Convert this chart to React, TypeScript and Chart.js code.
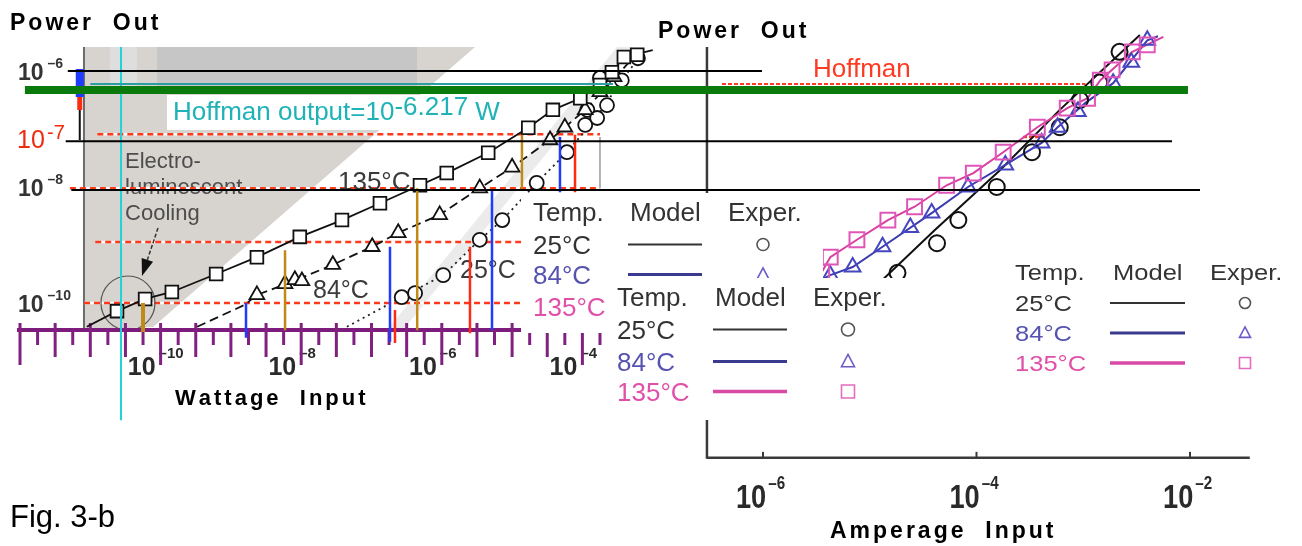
import React, { useEffect, useRef } from "react";
import { Chart, registerables } from "chart.js";

Chart.register(...registerables);

type P = [number, number];

// ---------------- Left panel: x = log10(Wattage input, W), y = log10(Power out, W)
const left135Model: P[] = [[-11.05,-10.41],[-10.62,-10.14],[-10.22,-9.93],[-9.84,-9.81],[-9.21,-9.5],[-8.63,-9.21],[-8.02,-8.86],[-7.42,-8.57],[-6.88,-8.28],[-6.31,-7.97],[-5.93,-7.76],[-5.34,-7.41],[-4.77,-6.98],[-4.42,-6.67],[-4.03,-6.47],[-3.75,-6.24],[-3.58,-6.02],[-3.41,-5.76],[-3.0,-5.64]];
const left135Exp: P[] = [[-10.62,-10.14],[-10.22,-9.93],[-9.84,-9.81],[-9.21,-9.5],[-8.63,-9.21],[-8.02,-8.86],[-7.42,-8.57],[-6.88,-8.28],[-6.31,-7.97],[-5.93,-7.76],[-5.34,-7.41],[-4.77,-6.98],[-4.42,-6.67],[-4.03,-6.47],[-3.75,-6.24],[-3.58,-6.02],[-3.41,-5.76],[-3.22,-5.72]];
const left84Model: P[] = [[-9.48,-10.41],[-8.8,-10.03],[-8.63,-9.86],[-8.1,-9.62],[-7.55,-9.34],[-6.99,-9.03],[-6.62,-8.79],[-6.03,-8.48],[-5.46,-8.02],[-5.0,-7.66],[-4.46,-7.19],[-3.96,-6.67],[-3.6,-6.2],[-3.18,-5.64]];
const left84Exp: P[] = [[-8.63,-9.86],[-8.23,-9.67],[-8.09,-9.6],[-7.99,-9.62],[-7.55,-9.34],[-6.99,-9.03],[-6.62,-8.79],[-6.03,-8.48],[-5.46,-8.02],[-5.0,-7.66],[-4.46,-7.19],[-4.25,-6.97],[-3.96,-6.67],[-3.75,-6.36],[-3.55,-6.1]];
const left25Model: P[] = [[-7.35,-10.41],[-6.57,-9.9],[-5.98,-9.52],[-5.46,-8.91],[-5.14,-8.57],[-4.65,-7.93],[-4.22,-7.4],[-3.8,-6.8],[-3.44,-6.16],[-3.1,-5.62]];
const left25Exp: P[] = [[-6.57,-9.9],[-6.38,-9.83],[-5.98,-9.52],[-5.46,-8.91],[-5.14,-8.57],[-4.65,-7.93],[-4.22,-7.4],[-3.96,-6.93],[-3.93,-6.67],[-3.79,-6.81],[-3.65,-6.59],[-3.75,-6.12],[-3.44,-6.16],[-3.21,-5.78]];

// ---------------- Right panel: x = log10(Amperage input, A), y = log10(Power out)
const right135Model: P[] = [[-5.62,-9.8],[-5.51,-9.69],[-5.45,-9.47],[-5.37,-9.21],[-5.12,-8.91],[-4.83,-8.57],[-4.58,-8.34],[-4.28,-7.97],[-4.03,-7.76],[-3.75,-7.4],[-3.43,-6.97],[-3.15,-6.64],[-2.96,-6.47],[-2.84,-6.16],[-2.73,-5.98],[-2.54,-5.67],[-2.25,-5.41]];
const right135Exp: P[] = [[-5.62,-9.75],[-5.45,-9.47],[-5.37,-9.21],[-5.12,-8.91],[-4.83,-8.57],[-4.58,-8.34],[-4.28,-7.97],[-4.03,-7.76],[-3.75,-7.4],[-3.43,-6.97],[-3.15,-6.64],[-2.96,-6.47],[-2.84,-6.16],[-2.73,-5.98],[-2.54,-5.67],[-2.4,-5.55]];
const right84Model: P[] = [[-5.6,-9.75],[-5.37,-9.52],[-5.16,-9.38],[-4.88,-9.03],[-4.42,-8.45],[-4.08,-8.0],[-3.73,-7.62],[-3.39,-7.24],[-3.24,-6.97],[-2.98,-6.55],[-2.72,-6.21],[-2.4,-5.47],[-2.3,-5.4]];
const right84Exp: P[] = [[-5.37,-9.52],[-5.16,-9.38],[-4.88,-9.03],[-4.62,-8.7],[-4.42,-8.45],[-4.08,-8.0],[-3.73,-7.62],[-3.39,-7.24],[-3.24,-6.97],[-3.05,-6.7],[-2.72,-6.21],[-2.55,-5.85],[-2.4,-5.47]];
const right25Model: P[] = [[-5.3,-10.2],[-5.0,-9.81],[-4.39,-8.74],[-3.78,-7.71],[-3.22,-6.67],[-2.47,-5.38]];
const right25Exp: P[] = [[-4.74,-9.48],[-4.37,-8.97],[-4.17,-8.57],[-3.81,-8.0],[-3.48,-7.4],[-3.22,-6.97],[-3.03,-6.5],[-2.85,-6.2],[-2.66,-5.67]];

// ---------------- Tick labels (exponents of 10)
const leftXTicks = [-10, -8, -6, -4];
const leftYTicks = [-6, -8, -10];
const rightXTicks = [-6, -4, -2];
const legendHeaders = ["Temp.", "Model", "Exper."];
const legendTemps = ["25°C", "84°C", "135°C"];
const hoffmanExp = "-6.217";

// ---------------- Marker lines (left panel, log units)
const goldMarkX = [-10.25, -8.23, -6.35, -4.86];
const goldMarkTop = [-10.0, -9.09, -8.02, -7.1];
const goldMarkBottom = [-10.5, -10.47, -10.47, -8.05];
const blueMarkX = [-8.785, -6.737, -5.286, -4.319];
const blueMarkTop = [-10.0, -9.03, -8.05, -7.14];
const blueMarkBottom = [-10.6, -10.67, -10.47, -8.09];
const redMarkX = [-6.666, -5.599, -4.105];
const redMarkTop = [-10.12, -9.03, -7.1];
const redMarkBottom = [-10.69, -10.52, -8.09];
const axisBarX = -11.15;
const axisBarBreaks = [-5.966, -6.448, -6.672, -7.19];

// ---------------- Reference lines
const redDashY = [-7.09, -8.02, -8.95, -10.0];
const redDashStart = [-10.9, -11.29, -10.93, -11.09];
const redDashEnd = -3.75;
const greenLineY = -6.328;
const greenLineX: P = [-11.93, 4.614];
const blackLineY = [-6.0, -7.21, -8.05];
const blackLineStart = [-11.32, -11.35, -11.27];
const blackLineEnd = [-1.445, 4.387, 4.785];
const tealLineY = -6.224;
const tealLineX: P = [-11.0, -3.565];
const cyanLineX = -10.563;
const cyanLineY: P = [-5.586, -12.02];
const rightHoffmanY = -6.224;
const rightHoffmanX: P = [-6.384, -2.98];
const rightShortDash: P = [-3.564, -3.36];
const rightShortDashY = -7.14;

// regions (left panel units)
const coolingRegion: P[] = [[-11.09,-5.586],[-5.528,-5.586],[-10.108,-10.414],[-11.09,-10.466]];
const topGrayBand: P[] = [[-10.051,-5.586],[-6.353,-5.586],[-6.353,-6.259],[-10.051,-6.259]];
const topLightBand: P[] = [[-10.72,-5.586],[-10.336,-5.586],[-10.336,-6.259],[-10.72,-6.259]];
const faintStripe: P[] = [[-6.779,-10.466],[-6.552,-10.466],[-3.28,-5.586],[-3.508,-5.586]];
const textBox: P[] = [[-9.909,-6.414],[-4.888,-6.414],[-4.888,-7.017],[-9.909,-7.017]];

// scale calibrations (value at canvas edges)
const XL_RANGE = { min: -12.2845, max: 6.2361 };
const XR_RANGE = { min: -13.1475, max: -0.9508 };
const Y_RANGE = { min: -14.1897, max: -4.7759 };
const LEFT_AXIS_X = -11.09;
const LEFT_AXIS_Y: P = [-5.586, -10.466];
const PURPLE_AXIS_X: P = [-12.043, -3.65];
const RIGHT_AXIS_X: P = [-6.525, -1.44];
const RIGHT_AXIS_Y: P = [-5.586, -12.67];

const FONT = '"Liberation Sans", Arial, Helvetica, sans-serif';
const TEMP_TEXT = ["#333333", "#5552b0", "#e04fa8"];
const TEMP_LINE = ["#333333", "#3b3a8e", "#d84aa4"];
const TEMP_LINE_W = [2, 3, 3.5];
const TEMP_SYM = ["#555555", "#6b5cc8", "#e46cc0"];
const TEMP_SYM_KIND = ["circle", "triangle", "rect"];

function txt(ctx: any, s: string, x: number, y: number, font: string, color: string, o: any = {}) {
  ctx.save();
  ctx.font = font;
  ctx.fillStyle = color;
  ctx.textBaseline = "alphabetic";
  ctx.textAlign = "left";
  const sx = o.sx ?? 1;
  const sp = o.spacing ?? 0;
  ctx.translate(x, y);
  ctx.scale(sx, 1);
  if (sp) {
    let cx = 0;
    for (const ch of s) {
      ctx.fillText(ch, cx, 0);
      cx += ctx.measureText(ch).width + sp;
    }
  } else ctx.fillText(s, 0, 0);
  ctx.restore();
}
function tw(ctx: any, s: string, font: string, sx = 1) {
  ctx.save();
  ctx.font = font;
  const w = ctx.measureText(s).width * sx;
  ctx.restore();
  return w;
}
function seg(ctx: any, x0: number, y0: number, x1: number, y1: number, color: string, width: number, dash: number[] = []) {
  ctx.save();
  ctx.beginPath();
  ctx.strokeStyle = color;
  ctx.lineWidth = width;
  ctx.setLineDash(dash);
  ctx.lineCap = "butt";
  ctx.moveTo(x0, y0);
  ctx.lineTo(x1, y1);
  ctx.stroke();
  ctx.restore();
}
function poly(ctx: any, pts: number[][], fill: string) {
  ctx.save();
  ctx.beginPath();
  pts.forEach(([a, b], i) => (i ? ctx.lineTo(a, b) : ctx.moveTo(a, b)));
  ctx.closePath();
  ctx.fillStyle = fill;
  ctx.fill();
  ctx.restore();
}
function symbol(ctx: any, kind: string, x: number, y: number, r: number, color: string, lw: number) {
  ctx.save();
  ctx.strokeStyle = color;
  ctx.lineWidth = lw;
  ctx.beginPath();
  if (kind === "circle") ctx.arc(x, y, r, 0, Math.PI * 2);
  else if (kind === "triangle") {
    ctx.moveTo(x, y - r * 1.1);
    ctx.lineTo(x + r, y + r * 0.8);
    ctx.lineTo(x - r, y + r * 0.8);
    ctx.closePath();
  } else ctx.rect(x - r, y - r, 2 * r, 2 * r);
  ctx.stroke();
  ctx.restore();
}
function pow(ctx: any, x: number, base: number, exp: string, bf: string, ef: string, color: string, raise: number, gap: number, sx = 1) {
  txt(ctx, "10", x, base, bf, color, { sx });
  const w = tw(ctx, "10", bf, sx);
  txt(ctx, exp, x + w + gap, base - raise, ef, color, { sx });
}

function drawLegend(ctx: any, L: any) {
  ctx.save();
  ctx.fillStyle = "#ffffff";
  ctx.fillRect(L.box[0], L.box[1], L.box[2], L.box[3]);
  ctx.restore();
  const font = `${L.size}px ${FONT}`;
  legendHeaders.forEach((h, i) => txt(ctx, h, L.cols[i], L.header, font, "#333", { sx: L.sx }));
  legendTemps.forEach((t, i) => {
    const by = L.rows[i];
    txt(ctx, t, L.cols[0], by, font, TEMP_TEXT[i], { sx: L.sx });
    const cy = by - L.mid;
    seg(ctx, L.line[0], cy, L.line[1], cy, TEMP_LINE[i], TEMP_LINE_W[i]);
    symbol(ctx, TEMP_SYM_KIND[i], L.sym, cy, L.symR, TEMP_SYM[i], 1.6);
  });
}

function drawBack(chart: any) {
  const ctx = chart.ctx;
  const xl = (v: number) => chart.scales.xL.getPixelForValue(v);
  const xr = (v: number) => chart.scales.xR.getPixelForValue(v);
  const y = (v: number) => chart.scales.y.getPixelForValue(v);
  const mapL = (a: P[]) => a.map(([p, q]) => [xl(p), y(q)]);

  // shaded regions
  poly(ctx, mapL(faintStripe), "#ebebeb");
  poly(ctx, mapL(coolingRegion), "#d7d3ce");
  poly(ctx, mapL(topLightBand), "#dedede");
  poly(ctx, mapL(topGrayBand), "#c6c6c6");
  poly(ctx, mapL(textBox), "#ffffff");

  // Hoffman output text
  const hf = `26px ${FONT}`;
  const hx = xl(-9.824), hy = y(-6.845);
  const part1 = "Hoffman output=10";
  txt(ctx, part1, hx, hy, hf, "#1fb3b8");
  const w1 = tw(ctx, part1, hf);
  txt(ctx, hoffmanExp, hx + w1, hy - 5, hf, "#1fb3b8");
  const w2 = tw(ctx, hoffmanExp, hf);
  txt(ctx, " W", hx + w1 + w2, hy, hf, "#1fb3b8");

  // Electro-luminescent Cooling
  const ef = `22px ${FONT}`;
  ["Electro-", "luminescent", "Cooling"].forEach((s, i) =>
    txt(ctx, s, xl(-10.506), y(-7.672) + i * 26, ef, "#4d4d4d"));

  // left y axis
  seg(ctx, xl(LEFT_AXIS_X), y(LEFT_AXIS_Y[0]), xl(LEFT_AXIS_X), y(LEFT_AXIS_Y[1]), "#6b6b6b", 2);

  // red dashed reference lines
  redDashY.forEach((v, i) => {
    seg(ctx, xl(redDashStart[i]), y(v), xl(redDashEnd), y(v), "#ffffff", 2.5);
    seg(ctx, xl(redDashStart[i]), y(v), xl(redDashEnd), y(v), "#ff3a1c", 2.5, [6, 4]);
  });
  // frame fragment
  seg(ctx, xl(-3.75), y(-7.14), xl(-3.75), y(-8.02), "#9a9a9a", 1.5);

  // series labels
  const lf = `25px ${FONT}`;
  txt(ctx, "135°C", xl(-7.477), y(-8.052), `26px ${FONT}`, "#3a3a3a");
  txt(ctx, "84°C", xl(-7.832), y(-9.914), lf, "#3a3a3a");
  txt(ctx, "25°C", xl(-5.741), y(-9.569), lf, "#3a3a3a");

  // circle + arrow
  ctx.save();
  ctx.strokeStyle = "#555";
  ctx.lineWidth = 1.2;
  ctx.beginPath();
  ctx.arc(xl(-10.464), y(-10.0), 27, 0, Math.PI * 2);
  ctx.stroke();
  ctx.restore();
  const ax0 = xl(-10.037), ay0 = y(-8.707), ax1 = xl(-10.265), ay1 = y(-9.534);
  const ang = Math.atan2(ay1 - ay0, ax1 - ax0);
  const hl = 17, hw = 6;
  const bx = ax1 - Math.cos(ang) * hl, by = ay1 - Math.sin(ang) * hl;
  seg(ctx, ax0, ay0, bx, by, "#333", 1.5, [4, 2]);
  poly(ctx, [[ax1, ay1], [bx + Math.sin(ang) * hw, by - Math.cos(ang) * hw], [bx - Math.sin(ang) * hw, by + Math.cos(ang) * hw]], "#111");

  // left x tick labels
  const axY = y(LEFT_AXIS_Y[1]);
  const bfX = `bold 25px ${FONT}`, efX = `bold 15px ${FONT}`;
  leftXTicks.forEach((e) => {
    const T = xl(e);
    const w = tw(ctx, "10", bfX);
    pow(ctx, T - 5 - w, axY + 45, "–" + Math.abs(e), bfX, efX, "#2a2a2a", 17, 3);
  });
  // purple axis
  seg(ctx, xl(PURPLE_AXIS_X[0]), axY, xl(PURPLE_AXIS_X[1]), axY, "#7d1c7d", 4);
  for (let k = 0; k <= 33; k++) {
    const v = -12 + k * 0.25;
    const T = xl(v);
    let top = 0, bot = 15;
    if (k % 8 === 0) { top = -7; bot = 35; }
    else if (k % 2 === 0) { top = -7; bot = 27; }
    seg(ctx, T, axY + top, T, axY + bot, "#80207f", 3);
  }

  // left y tick labels
  const bfY = `bold 23px ${FONT}`, efY = `bold 14px ${FONT}`;
  leftYTicks.forEach((e) => {
    pow(ctx, xl(LEFT_AXIS_X) - 66, y(e) + 9, "–" + Math.abs(e), bfY, efY, "#333", 12, 4);
  });

  // right panel axes
  const rx0 = xr(RIGHT_AXIS_X[0]), rx1 = xr(RIGHT_AXIS_X[1]);
  const ry0 = y(RIGHT_AXIS_Y[0]), ry1 = y(RIGHT_AXIS_Y[1]);
  seg(ctx, rx0, ry0, rx0, ry1 + 1, "#3a3a3a", 2.5);
  seg(ctx, rx0, ry1, rx1, ry1, "#3a3a3a", 2.5);
  const bfR = `bold 34px ${FONT}`, efR = `bold 19px ${FONT}`;
  rightXTicks.forEach((e) => {
    const T = xr(e);
    seg(ctx, T, ry1, T, ry1 - 6, "#3a3a3a", 2);
    pow(ctx, T - 27, ry1 + 50, "–" + Math.abs(e), bfR, efR, "#2a2a2a", 19, 2, 0.8);
  });
  // Hoffman (right)
  txt(ctx, "Hoffman", xr(-5.532), y(-6.103), `26px ${FONT}`, "#ff3a22");
  seg(ctx, xr(rightHoffmanX[0]), y(rightHoffmanY), xr(rightHoffmanX[1]), y(rightHoffmanY), "#ff3a22", 2, [4, 2]);
  seg(ctx, xr(rightShortDash[0]), y(rightShortDashY), xr(rightShortDash[1]), y(rightShortDashY), "#ff3a22", 2.5, [4, 2]);
}

function drawFront(chart: any) {
  const ctx = chart.ctx;
  const xl = (v: number) => chart.scales.xL.getPixelForValue(v);
  const y = (v: number) => chart.scales.y.getPixelForValue(v);

  // legends
  drawLegend(ctx, { box: [521, 193, 302, 140], cols: [533, 630, 728], header: 221, rows: [254, 284, 316], size: 26, sx: 1, mid: 9.5, line: [628, 702], sym: 763, symR: 6 });
  drawLegend(ctx, { box: [607, 278, 301, 142], cols: [617, 715, 813], header: 306, rows: [339, 371, 401], size: 26, sx: 1, mid: 9.5, line: [713, 787], sym: 848, symR: 6.5 });
  drawLegend(ctx, { box: [1005, 255, 297, 125], cols: [1015, 1113, 1210], header: 280, rows: [311, 341, 371], size: 22, sx: 1.16, mid: 8, line: [1110, 1185], sym: 1245, symR: 5.5 });

  // overlay reference lines
  seg(ctx, xl(cyanLineX), y(cyanLineY[0]), xl(cyanLineX), y(cyanLineY[1]), "#1fd3dc", 2);
  seg(ctx, xl(tealLineX[0]), y(tealLineY), xl(tealLineX[1]), y(tealLineY), "#2a9fa3", 2);
  seg(ctx, xl(greenLineX[0]), y(greenLineY), xl(greenLineX[1]), y(greenLineY), "#0a7a0c", 8);
  blackLineY.forEach((v, i) => seg(ctx, xl(blackLineStart[i]), y(v), xl(blackLineEnd[i]), y(v), "#000000", 2));

  // red 10^-7 label
  const r7 = y(blackLineY[1]);
  txt(ctx, "10", 17, r7 + 7, `25px ${FONT}`, "#f02a10");
  txt(ctx, "-7", 47, r7 - 2, `20px ${FONT}`, "#f02a10");

  // titles
  txt(ctx, "Power  Out", 10, 30, `bold 23px ${FONT}`, "#000", { spacing: 3 });
  txt(ctx, "Power  Out", 658, 38, `bold 23px ${FONT}`, "#000", { spacing: 3 });
  txt(ctx, "Wattage  Input", 175, 405, `bold 22px ${FONT}`, "#000", { spacing: 3 });
  txt(ctx, "Amperage  Input", 830, 538, `bold 23px ${FONT}`, "#000", { spacing: 3 });
  txt(ctx, "Fig. 3-b", 10, 527, `31px ${FONT}`, "#000");
}

const toXY = (a: P[]) => a.map(([x, y]) => ({ x, y }));
function modelLine(data: P[], xAxisID: string, color: string, width: number, dash: number[], extra: any = {}) {
  return { type: "scatter", data: toXY(data), xAxisID, yAxisID: "y", showLine: true, borderColor: color, borderWidth: width, borderDash: dash, pointRadius: 0, pointHoverRadius: 0, fill: false, tension: 0, clip: false, order: 5, ...extra };
}
function markers(data: P[], xAxisID: string, style: string, radius: number, color: string, bg: string, width: number) {
  return { type: "scatter", data: toXY(data), xAxisID, yAxisID: "y", showLine: false, pointStyle: style, pointRadius: radius, pointHoverRadius: radius, pointBorderColor: color, pointBackgroundColor: bg, pointBorderWidth: width, clip: false, order: 3 };
}
function markLine(x: number, y0: number, y1: number, color: string, width: number) {
  return { type: "scatter", data: [{ x, y: y0 }, { x, y: y1 }], xAxisID: "xL", yAxisID: "y", showLine: true, borderColor: color, borderWidth: width, pointRadius: 0, pointHoverRadius: 0, clip: false, order: 1, borderCapStyle: "butt" };
}

function buildDatasets() {
  const ds: any[] = [
    modelLine(left135Model, "xL", "#111", 1.8, []),
    modelLine(left84Model, "xL", "#111", 1.8, [9, 5]),
    modelLine(left25Model, "xL", "#222", 1.8, [2, 4]),
    markers(left135Exp, "xL", "rect", 9, "#111", "#ffffff", 1.8),
    markers(left84Exp, "xL", "triangle", 8.5, "#111", "#ffffff", 1.8),
    markers(left25Exp, "xL", "circle", 7, "#111", "#ffffff", 1.8),
    modelLine(right135Model, "xR", "#d93ea0", 2, []),
    modelLine(right84Model, "xR", "#3c3cb0", 2, []),
    modelLine(right25Model, "xR", "#111", 2, []),
    markers(right135Exp, "xR", "rect", 10.5, "#e055b8", "rgba(0,0,0,0)", 2),
    markers(right84Exp, "xR", "triangle", 9, "#4646c0", "rgba(0,0,0,0)", 2),
    markers(right25Exp, "xR", "circle", 8, "#111", "rgba(0,0,0,0)", 2),
  ];
  goldMarkX.forEach((x, i) => ds.push(markLine(x, goldMarkTop[i], goldMarkBottom[i], "#c08a18", i === 0 ? 4 : 2.5)));
  blueMarkX.forEach((x, i) => ds.push(markLine(x, blueMarkTop[i], blueMarkBottom[i], "#1f3cff", 2.5)));
  redMarkX.forEach((x, i) => ds.push(markLine(x, redMarkTop[i], redMarkBottom[i], "#ff2a14", 2.5)));
  const barColors = ["#1f3cff", "#ff2a14", "#111"];
  const barWidths = [8, 5, 2];
  for (let i = 0; i < 3; i++) ds.push(markLine(axisBarX, axisBarBreaks[i], axisBarBreaks[i + 1], barColors[i], barWidths[i]));
  return ds;
}

const figPlugin = {
  id: "fig3b",
  beforeDraw(chart: any) {
    const { ctx, width, height } = chart;
    ctx.save();
    ctx.fillStyle = "#ffffff";
    ctx.fillRect(0, 0, width, height);
    ctx.restore();
  },
  beforeDatasetsDraw(chart: any) { drawBack(chart); },
  afterDatasetsDraw(chart: any) { drawFront(chart); },
};

export default function App() {
  const ref = useRef<HTMLCanvasElement>(null);
  useEffect(() => {
    document.body.style.margin = "0";
    const canvas = ref.current as HTMLCanvasElement;
    const chart = new Chart(canvas, {
      type: "scatter",
      data: { datasets: buildDatasets() },
      options: {
        animation: false,
        responsive: false,
        devicePixelRatio: 1,
        events: [],
        layout: { padding: 0, autoPadding: false },
        plugins: { legend: { display: false }, tooltip: { enabled: false } },
        scales: {
          xL: { type: "linear", axis: "x", display: false, min: XL_RANGE.min, max: XL_RANGE.max, bounds: "data" },
          xR: { type: "linear", axis: "x", display: false, min: XR_RANGE.min, max: XR_RANGE.max, bounds: "data" },
          y: { type: "linear", axis: "y", display: false, min: Y_RANGE.min, max: Y_RANGE.max, bounds: "data" },
        },
      } as any,
      plugins: [figPlugin],
    } as any);
    return () => chart.destroy();
  }, []);
  return (
    <div style={{ position: "relative", width: 1302, height: 546, background: "#fff" }}>
      <canvas ref={ref} width={1302} height={546} style={{ display: "block", width: 1302, height: 546 }} />
    </div>
  );
}
